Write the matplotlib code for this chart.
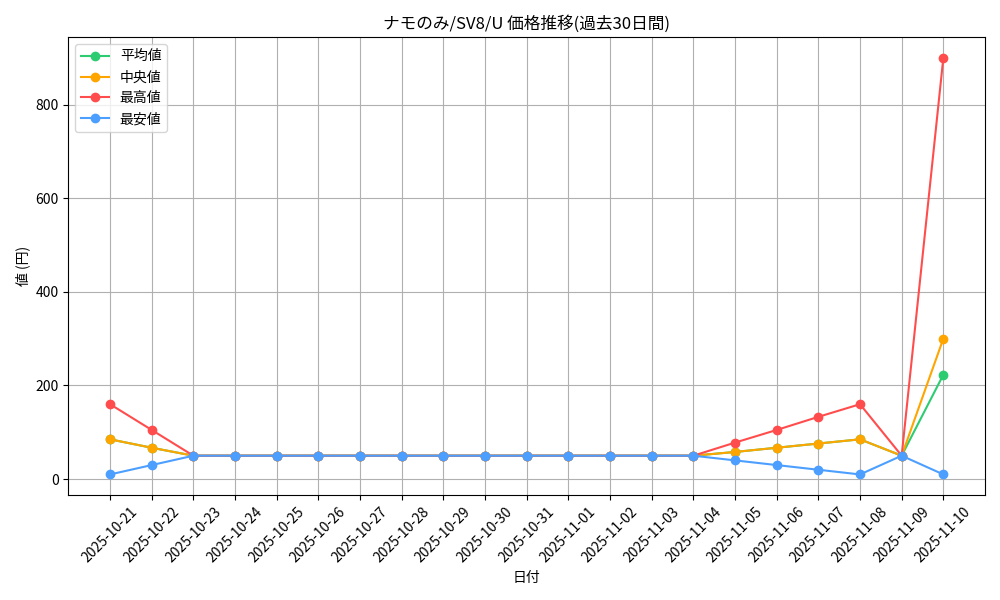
import matplotlib
matplotlib.use("Agg")
import matplotlib.pyplot as plt

plt.rcParams['font.family'] = ['Noto Sans CJK JP', 'DejaVu Sans']

dates = ["2025-10-21", "2025-10-22", "2025-10-23", "2025-10-24", "2025-10-25",
         "2025-10-26", "2025-10-27", "2025-10-28", "2025-10-29", "2025-10-30",
         "2025-10-31", "2025-11-01", "2025-11-02", "2025-11-03", "2025-11-04",
         "2025-11-05", "2025-11-06", "2025-11-07", "2025-11-08", "2025-11-09",
         "2025-11-10"]
avg_prices = [85, 67, 50, 50, 50, 50, 50, 50, 50, 50, 50, 50, 50, 50, 50, 58, 67, 76, 85, 50, 223]
median_prices = [85, 67, 50, 50, 50, 50, 50, 50, 50, 50, 50, 50, 50, 50, 50, 58, 67, 76, 85, 50, 300]
max_prices = [160, 105, 50, 50, 50, 50, 50, 50, 50, 50, 50, 50, 50, 50, 50, 78, 105, 133, 160, 50, 900]
min_prices = [10, 30, 50, 50, 50, 50, 50, 50, 50, 50, 50, 50, 50, 50, 50, 40, 30, 20, 10, 50, 10]

fig, ax = plt.subplots(figsize=(10, 6), dpi=100)
ax.plot(dates, avg_prices, marker='o', color='#2ecc71', label='平均値')
ax.plot(dates, median_prices, marker='o', color='#ffa500', label='中央値')
ax.plot(dates, max_prices, marker='o', color='#ff4d4d', label='最高値')
ax.plot(dates, min_prices, marker='o', color='#4d9fff', label='最安値')

ax.set_title('ナモのみ/SV8/U 価格推移(過去30日間)')
ax.set_xlabel('日付')
ax.set_ylabel('値 (円)')
ax.grid(True)
ax.legend(loc='upper left')
plt.xticks(rotation=45)
plt.tight_layout()
plt.savefig("out.png", dpi=100)
